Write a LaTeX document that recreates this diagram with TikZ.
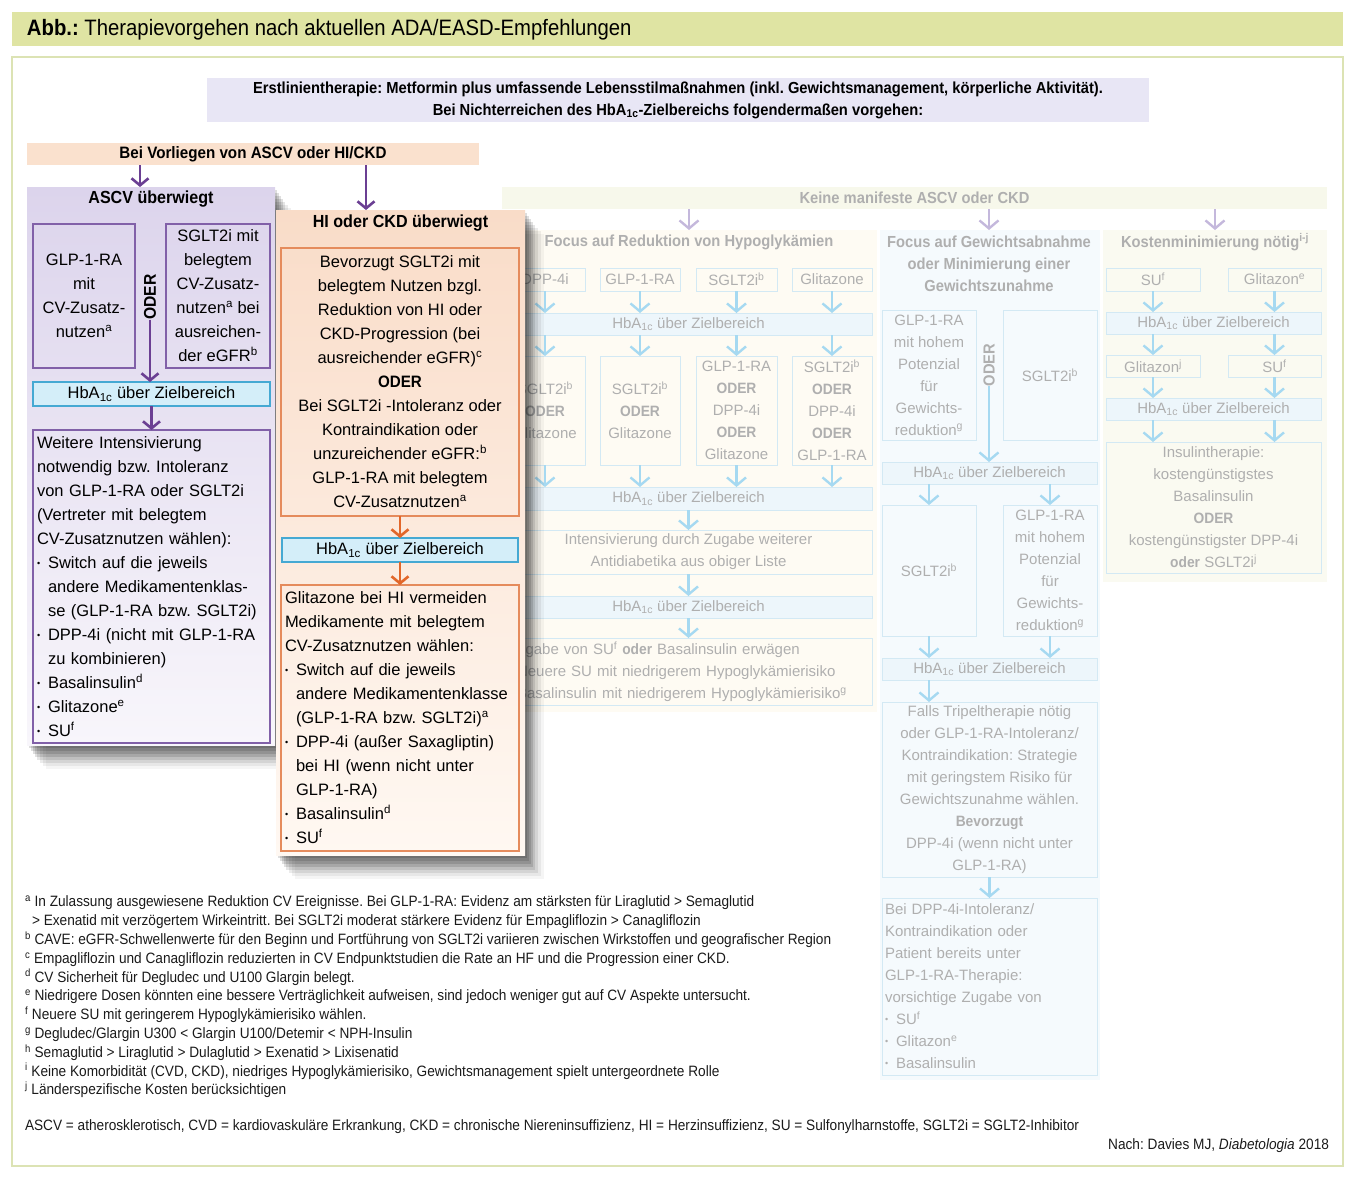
\documentclass[tikz,border=0pt]{standalone}
\usepackage{fontspec}
\setmainfont{Liberation Sans}[BoldFeatures={FakeStretch=0.92}]
\newfontfamily\narrowfont{Liberation Sans}[FakeStretch=0.91]
\usetikzlibrary{positioning, arrows.meta, shadows}
\definecolor{abbgreen}{HTML}{DFE4A3}
\definecolor{framegreen}{HTML}{DCE3B4}
\definecolor{firstlav}{HTML}{E8E6F5}
\definecolor{peachbar}{HTML}{FAE1CE}
\definecolor{ascvarrow}{HTML}{6B3F93}
\definecolor{ascvtop}{HTML}{DCD4EC}
\definecolor{ascvbot}{HTML}{F8F6FB}
\definecolor{boxpurple}{HTML}{8160A8}
\definecolor{hitop}{HTML}{F9DCC8}
\definecolor{hibot}{HTML}{FFF8F2}
\definecolor{hiorange}{HTML}{E58B5C}
\definecolor{hiarrow}{HTML}{E2672A}
\definecolor{hbafill}{HTML}{D4EEF9}
\definecolor{hbaline}{HTML}{45A9D3}
\definecolor{fadegray}{HTML}{AFAFAF}
\definecolor{fadeline}{HTML}{D3E9F4}
\definecolor{fadearrow}{HTML}{A6D9F1}
\definecolor{fadehba}{HTML}{EDF6FB}
\definecolor{fadebar}{HTML}{F7F8EB}
\definecolor{fadecolA}{HTML}{FEFBF3}
\definecolor{fadecolB}{HTML}{F5FAFD}
\definecolor{fadecolC}{HTML}{FAFAF1}
\definecolor{fadelav}{HTML}{C4B8DC}
\definecolor{notecol}{HTML}{1A1A1A}
\newcommand{\hbaic}{HbA\textsubscript{1c}}
\newcommand{\hochz}[1]{\textsuperscript{#1}}
\newcommand{\punkt}{\makebox[11pt][l]{\raisebox{0.25ex}{\fontsize{9}{9}\selectfont\textbullet}}}
\newcommand{\einr}{\hspace*{11pt}}
\newcommand{\notesize}{\narrowfont\fontsize{15}{18.8}\selectfont}
\frenchspacing

\begin{document}
\begin{tikzpicture}[
    x=1pt, y=-1pt,
    every node/.style={inner sep=0pt, outer sep=0pt},
    sz/.style n args={2}{minimum width=#1pt, minimum height=#2pt},
    bodytxt/.style={font=\fontsize{16.5}{24}\selectfont},
    fadetxt/.style={font=\fontsize{15}{22}\selectfont, text=fadegray},
    paneltitle/.style={font=\bfseries\fontsize{17.5}{22}\selectfont},
    fadehead/.style={font=\bfseries\fontsize{16}{22}\selectfont, text=fadegray},
    pbox/.style={draw=boxpurple, line width=1.2pt, bodytxt, align=center},
    obox/.style={draw=hiorange, line width=1.2pt, bodytxt, align=center},
    hbabox/.style={draw=hbaline, fill=hbafill, line width=1.2pt, bodytxt},
    fadebox/.style={draw=fadeline, line width=1pt, fadetxt, align=center},
    fadehbabox/.style={draw=fadeline, fill=fadehba, line width=1pt, fadetxt},
    softshadow/.style={
      drop shadow={shadow xshift=2pt, shadow yshift=-3pt, opacity=.13, fill=black},
      drop shadow={shadow xshift=4pt, shadow yshift=-6pt, opacity=.13, fill=black},
      drop shadow={shadow xshift=6pt, shadow yshift=-9pt, opacity=.13, fill=black},
      drop shadow={shadow xshift=8pt, shadow yshift=-12pt, opacity=.12, fill=black},
      drop shadow={shadow xshift=10pt, shadow yshift=-15pt, opacity=.10, fill=black},
      drop shadow={shadow xshift=13pt, shadow yshift=-18pt, opacity=.08, fill=black},
      drop shadow={shadow xshift=16pt, shadow yshift=-21pt, opacity=.06, fill=black},
      drop shadow={shadow xshift=19pt, shadow yshift=-24pt, opacity=.04, fill=black}},
    parr/.style={-{Straight Barb[length=7pt,width=17pt]}, line width=2.6pt, ascvarrow},
    oarr/.style={-{Straight Barb[length=7pt,width=17pt]}, line width=2.6pt, hiarrow},
    farr/.style={-{Straight Barb[length=8pt,width=19pt]}, line width=2.4pt, fadearrow},
    larr/.style={-{Straight Barb[length=8pt,width=19pt]}, line width=2.4pt, fadelav},
  ]
  \useasboundingbox (0,0) rectangle (1355,1178);

  % Kopf und Rahmen
  \node[fill=abbgreen, sz={1331}{34}, anchor=north west] (titlebar) at (12,12) {};
  \node[anchor=west, font=\narrowfont\fontsize{22.3}{26}\selectfont] (title) at (27,30)
    {\textbf{Abb.:} Therapievorgehen nach aktuellen ADA/EASD-Empfehlungen};
  \node[draw=framegreen, line width=1.5pt, sz={1331}{1109}, anchor=north west] (frame) at (12,57) {};

  \node[fill=firstlav, sz={942}{44}, align=center, font=\bfseries\fontsize{16}{22}\selectfont] (erst) at (678,100)
    {Erstlinientherapie: Metformin plus umfassende Lebensstilmaßnahmen (inkl. Gewichtsmanagement, körperliche Aktivität).\\
     Bei Nichterreichen des \hbaic-Zielbereichs folgendermaßen vorgehen:};

  % Keine manifeste ASCV oder CKD (blass)
  \node[fill=fadebar, sz={825}{22}, fadehead] (keine) at (914.5,198) {Keine manifeste ASCV oder CKD};
  \node[fill=fadecolA, sz={372}{482}, anchor=north west] (colA) at (505,230) {};
  \node[fill=fadecolB, sz={220}{850}, anchor=north west] (colB) at (880,230) {};
  \node[fill=fadecolC, sz={224}{352}, anchor=north west] (colC) at (1103,230) {};

  \node[fadehead] (headA) at (689,242) {Focus auf Reduktion von Hypoglykämien};
  \node[fadehead, align=center] (headB) at (989,264) {Focus auf Gewichtsabnahme\\oder Minimierung einer\\Gewichtszunahme};
  \node[fadehead] (headC) at (1215,242) {Kostenminimierung nötig\hochz{i-j}};
  \draw[larr] (keine.south -| headA) -- (colA.north -| headA);
  \draw[larr] (keine.south -| headB) -- (colB.north -| headB);
  \draw[larr] (keine.south -| headC) -- (colC.north -| headC);

  % Hypoglykaemien
  \node[fadebox, sz={80}{23}] (a1) at (545,279.5) {DPP-4i};
  \node[fadebox, sz={80}{23}] (a2) at (640,279.5) {GLP-1-RA};
  \node[fadebox, sz={81}{23}] (a3) at (736.5,279.5) {SGLT2i\hochz{b}};
  \node[fadebox, sz={80}{23}] (a4) at (832,279.5) {Glitazone};
  \node[fadehbabox, sz={367}{22}] (ahba1) at (688.5,324) {\hbaic\ über Zielbereich};
  \node[fadebox, sz={80}{109}] (b1) at (545,410.5) {SGLT2i\hochz{b}\\\textbf{ODER}\\Glitazone};
  \node[fadebox, sz={80}{109}] (b2) at (640,410.5) {SGLT2i\hochz{b}\\\textbf{ODER}\\Glitazone};
  \node[fadebox, sz={81}{109}] (b3) at (736.5,410.5) {GLP-1-RA\\\textbf{ODER}\\DPP-4i\\\textbf{ODER}\\Glitazone};
  \node[fadebox, sz={80}{109}] (b4) at (832,410.5) {SGLT2i\hochz{b}\\\textbf{ODER}\\DPP-4i\\\textbf{ODER}\\GLP-1-RA};
  \node[fadehbabox, sz={367}{23}] (ahba2) at (688.5,498.5) {\hbaic\ über Zielbereich};
  \node[fadebox, sz={367}{44}] (aint) at (688.5,552) {Intensivierung durch Zugabe weiterer\\Antidiabetika aus obiger Liste};
  \node[fadehbabox, sz={367}{22}] (ahba3) at (688.5,607) {\hbaic\ über Zielbereich};
  \node[fadebox, sz={367}{67}, align=left, text width=361pt, inner xsep=3pt] (azug) at (688.5,671.5)
    {Zugabe von SU\hochz{f} \textbf{oder} Basalinsulin erwägen\\
     \hspace*{9pt}Neuere SU mit niedrigerem Hypoglykämierisiko\\
     \hspace*{9pt}Basalinsulin mit niedrigerem Hypoglykämierisiko\hochz{g}};

  \draw[farr] (a1) -- (ahba1.north -| a1);
  \draw[farr] (a2) -- (ahba1.north -| a2);
  \draw[farr] (a3) -- (ahba1.north -| a3);
  \draw[farr] (a4) -- (ahba1.north -| a4);
  \draw[farr] (ahba1.south -| b1) -- (b1);
  \draw[farr] (ahba1.south -| b2) -- (b2);
  \draw[farr] (ahba1.south -| b3) -- (b3);
  \draw[farr] (ahba1.south -| b4) -- (b4);
  \draw[farr] (b1) -- (ahba2.north -| b1);
  \draw[farr] (b2) -- (ahba2.north -| b2);
  \draw[farr] (b3) -- (ahba2.north -| b3);
  \draw[farr] (b4) -- (ahba2.north -| b4);
  \draw[farr] (ahba2) -- (aint);
  \draw[farr] (aint) -- (ahba3);
  \draw[farr] (ahba3) -- (azug);

  % Gewicht
  \node[fadebox, sz={94}{130}] (gA) at (929,375) {GLP-1-RA\\mit hohem\\Potenzial\\für\\Gewichts-\\reduktion\hochz{g}};
  \node[fadehead, rotate=90] (oderB) at (989,365) {ODER};
  \node[fadebox, sz={94}{130}] (sA) at (1050,375) {SGLT2i\hochz{b}};
  \node[fadehbabox, sz={215}{22}] (bhba1) at (989.5,473) {\hbaic\ über Zielbereich};
  \draw[farr] (oderB.west) -- (oderB.west |- bhba1.north);
  \node[fadebox, sz={94}{131}] (sB) at (929,570.5) {SGLT2i\hochz{b}};
  \node[fadebox, sz={94}{131}] (gB) at (1050,570.5) {GLP-1-RA\\mit hohem\\Potenzial\\für\\Gewichts-\\reduktion\hochz{g}};
  \draw[farr] (bhba1.south -| sB) -- (sB);
  \draw[farr] (bhba1.south -| gB) -- (gB);
  \node[fadehbabox, sz={215}{22}] (bhba2) at (989.5,669) {\hbaic\ über Zielbereich};
  \draw[farr] (sB) -- (bhba2.north -| sB);
  \draw[farr] (gB) -- (bhba2.north -| gB);
  \node[fadebox, sz={215}{175}] (falls) at (989.5,789.5)
    {Falls Tripeltherapie nötig\\oder GLP-1-RA-Intoleranz/\\Kontraindikation: Strategie\\mit geringstem Risiko für\\Gewichtszunahme wählen.\\\textbf{Bevorzugt}\\DPP-4i (wenn nicht unter\\GLP-1-RA)};
  \draw[farr] (bhba2.south -| sB) -- (falls.north -| sB);
  \node[fadebox, sz={215}{177}, align=left, text width=209pt, inner xsep=3pt] (beidpp) at (989.5,986.5)
    {Bei DPP-4i-Intoleranz/\\Kontraindikation oder\\Patient bereits unter\\GLP-1-RA-Therapie:\\vorsichtige Zugabe von\\
     \punkt SU\hochz{f}\\\punkt Glitazon\hochz{e}\\\punkt Basalinsulin};
  \draw[farr] (falls) -- (beidpp);

  % Kosten
  \node[fadebox, sz={94}{23}] (su1) at (1153,279.5) {SU\hochz{f}};
  \node[fadebox, sz={93}{23}] (gl1) at (1274.5,279.5) {Glitazon\hochz{e}};
  \node[fadehbabox, sz={215}{22}] (chba1) at (1213.5,323) {\hbaic\ über Zielbereich};
  \draw[farr] (su1) -- (chba1.north -| su1);
  \draw[farr] (gl1) -- (chba1.north -| gl1);
  \node[fadebox, sz={94}{22}] (gl2) at (1153,366) {Glitazon\hochz{j}};
  \node[fadebox, sz={93}{22}] (su2) at (1274.5,366) {SU\hochz{f}};
  \draw[farr] (chba1.south -| gl2) -- (gl2);
  \draw[farr] (chba1.south -| su2) -- (su2);
  \node[fadehbabox, sz={215}{22}] (chba2) at (1213.5,409) {\hbaic\ über Zielbereich};
  \draw[farr] (gl2) -- (chba2.north -| gl2);
  \draw[farr] (su2) -- (chba2.north -| su2);
  \node[fadebox, sz={215}{131}] (insulin) at (1213.5,507.5)
    {Insulintherapie:\\kostengünstigstes\\Basalinsulin\\\textbf{ODER}\\kostengünstigster DPP-4i\\\textbf{oder} SGLT2i\hochz{j}};
  \draw[farr] (chba2.south -| gl2) -- (insulin.north -| gl2);
  \draw[farr] (chba2.south -| su2) -- (insulin.north -| su2);

  % ASCV ueberwiegt
  \node[softshadow, top color=ascvtop, bottom color=ascvbot, sz={248}{558}] (ascv) at (151,466) {};
  \node[paneltitle] (ascvhead) at (151,199) {ASCV überwiegt};
  \node[pbox, sz={102}{144}] (glp) at (84,296) {GLP-1-RA\\mit\\CV-Zusatz-\\nutzen\hochz{a}};
  \node[pbox, sz={104}{144}] (sglt) at (218,296) {SGLT2i mit\\belegtem\\CV-Zusatz-\\nutzen\hochz{a} bei\\ausreichen-\\der eGFR\hochz{b}};
  \node[font=\bfseries\fontsize{17}{20}\selectfont, rotate=90] (oderA) at (150,297) {ODER};
  \node[hbabox, sz={237}{24}] (hbaA) at (151.5,394) {\hbaic\ über Zielbereich};
  \draw[parr] (oderA.west) -- (oderA.west |- hbaA.north);
  \node[pbox, sz={237}{313}, align=left, text width=229pt, inner xsep=4pt] (weitere) at (151.5,586.5)
    {Weitere Intensivierung\\notwendig bzw. Intoleranz\\von GLP-1-RA oder SGLT2i\\(Vertreter mit belegtem\\CV-Zusatznutzen wählen):\\
     \punkt Switch auf die jeweils\\\einr andere Medikamentenklas-\\\einr se (GLP-1-RA bzw. SGLT2i)\\
     \punkt DPP-4i (nicht mit GLP-1-RA\\\einr zu kombinieren)\\
     \punkt Basalinsulin\hochz{d}\\\punkt Glitazone\hochz{e}\\\punkt SU\hochz{f}};
  \draw[parr] (hbaA) -- (weitere);

  % HI oder CKD ueberwiegt
  \node[softshadow, top color=hitop, bottom color=hibot, sz={249}{645}] (hi) at (400.5,532.5) {};
  \node[paneltitle] (hihead) at (400.5,223) {HI oder CKD überwiegt};
  \node[obox, sz={238}{268}] (bevorzugt) at (400,382)
    {Bevorzugt SGLT2i mit\\belegtem Nutzen bzgl.\\Reduktion von HI oder\\CKD-Progression (bei\\ausreichender eGFR)\hochz{c}\\\textbf{ODER}\\
     Bei SGLT2i -Intoleranz oder\\Kontraindikation oder\\unzureichender eGFR:\hochz{b}\\GLP-1-RA mit belegtem\\CV-Zusatznutzen\hochz{a}};
  \node[hbabox, sz={236}{24}] (hbaB) at (400,550) {\hbaic\ über Zielbereich};
  \node[obox, sz={238}{266}, align=left, text width=230pt, inner xsep=4pt] (glitazone) at (400,718)
    {Glitazone bei HI vermeiden\\Medikamente mit belegtem\\CV-Zusatznutzen wählen:\\
     \punkt Switch auf die jeweils\\\einr andere Medikamentenklasse\\\einr (GLP-1-RA bzw. SGLT2i)\hochz{a}\\
     \punkt DPP-4i (außer Saxagliptin)\\\einr bei HI (wenn nicht unter\\\einr GLP-1-RA)\\
     \punkt Basalinsulin\hochz{d}\\\punkt SU\hochz{f}};
  \draw[oarr] (bevorzugt) -- (hbaB);
  \draw[oarr] (hbaB) -- (glitazone);

  % Bei Vorliegen
  \node[fill=peachbar, sz={452}{22}, font=\bfseries\fontsize{16.5}{20}\selectfont] (vorliegen) at (253,154) {Bei Vorliegen von ASCV oder HI/CKD};
  \draw[parr] ([xshift=-113pt]vorliegen.south) -- ([xshift=-11pt]ascv.north);
  \draw[parr] ([xshift=113pt]vorliegen.south) -- ([xshift=-34.5pt]hi.north);

  % Fussnoten
  \node[anchor=north west, align=left, font=\notesize, text=notecol] (notes) at (25,896)
    {\hochz{a} In Zulassung ausgewiesene Reduktion CV Ereignisse. Bei GLP-1-RA: Evidenz am stärksten für Liraglutid > Semaglutid\\
     \hspace*{7pt}> Exenatid mit verzögertem Wirkeintritt. Bei SGLT2i moderat stärkere Evidenz für Empagliflozin > Canagliflozin\\
     \hochz{b} CAVE: eGFR-Schwellenwerte für den Beginn und Fortführung von SGLT2i variieren zwischen Wirkstoffen und geografischer Region\\
     \hochz{c} Empagliflozin und Canagliflozin reduzierten in CV Endpunktstudien die Rate an HF und die Progression einer CKD.\\
     \hochz{d} CV Sicherheit für Degludec und U100 Glargin belegt.\\
     \hochz{e} Niedrigere Dosen könnten eine bessere Verträglichkeit aufweisen, sind jedoch weniger gut auf CV Aspekte untersucht.\\
     \hochz{f} Neuere SU mit geringerem Hypoglykämierisiko wählen.\\
     \hochz{g} Degludec/Glargin U300 < Glargin U100/Detemir < NPH-Insulin\\
     \hochz{h} Semaglutid > Liraglutid > Dulaglutid > Exenatid > Lixisenatid\\
     \hochz{i} Keine Komorbidität (CVD, CKD), niedriges Hypoglykämierisiko, Gewichtsmanagement spielt untergeordnete Rolle\\
     \hochz{j} Länderspezifische Kosten berücksichtigen};
  \node[anchor=west, font=\notesize, text=notecol] (abk) at (25,1127)
    {ASCV = atherosklerotisch, CVD = kardiovaskuläre Erkrankung, CKD = chronische Niereninsuffizienz, HI = Herzinsuffizienz, SU = Sulfonylharnstoffe, SGLT2i = SGLT2-Inhibitor};
  \node[anchor=east, font=\notesize, text=notecol] (quelle) at (1329,1146) {Nach: Davies MJ, \textit{Diabetologia} 2018};
\end{tikzpicture}
\end{document}
